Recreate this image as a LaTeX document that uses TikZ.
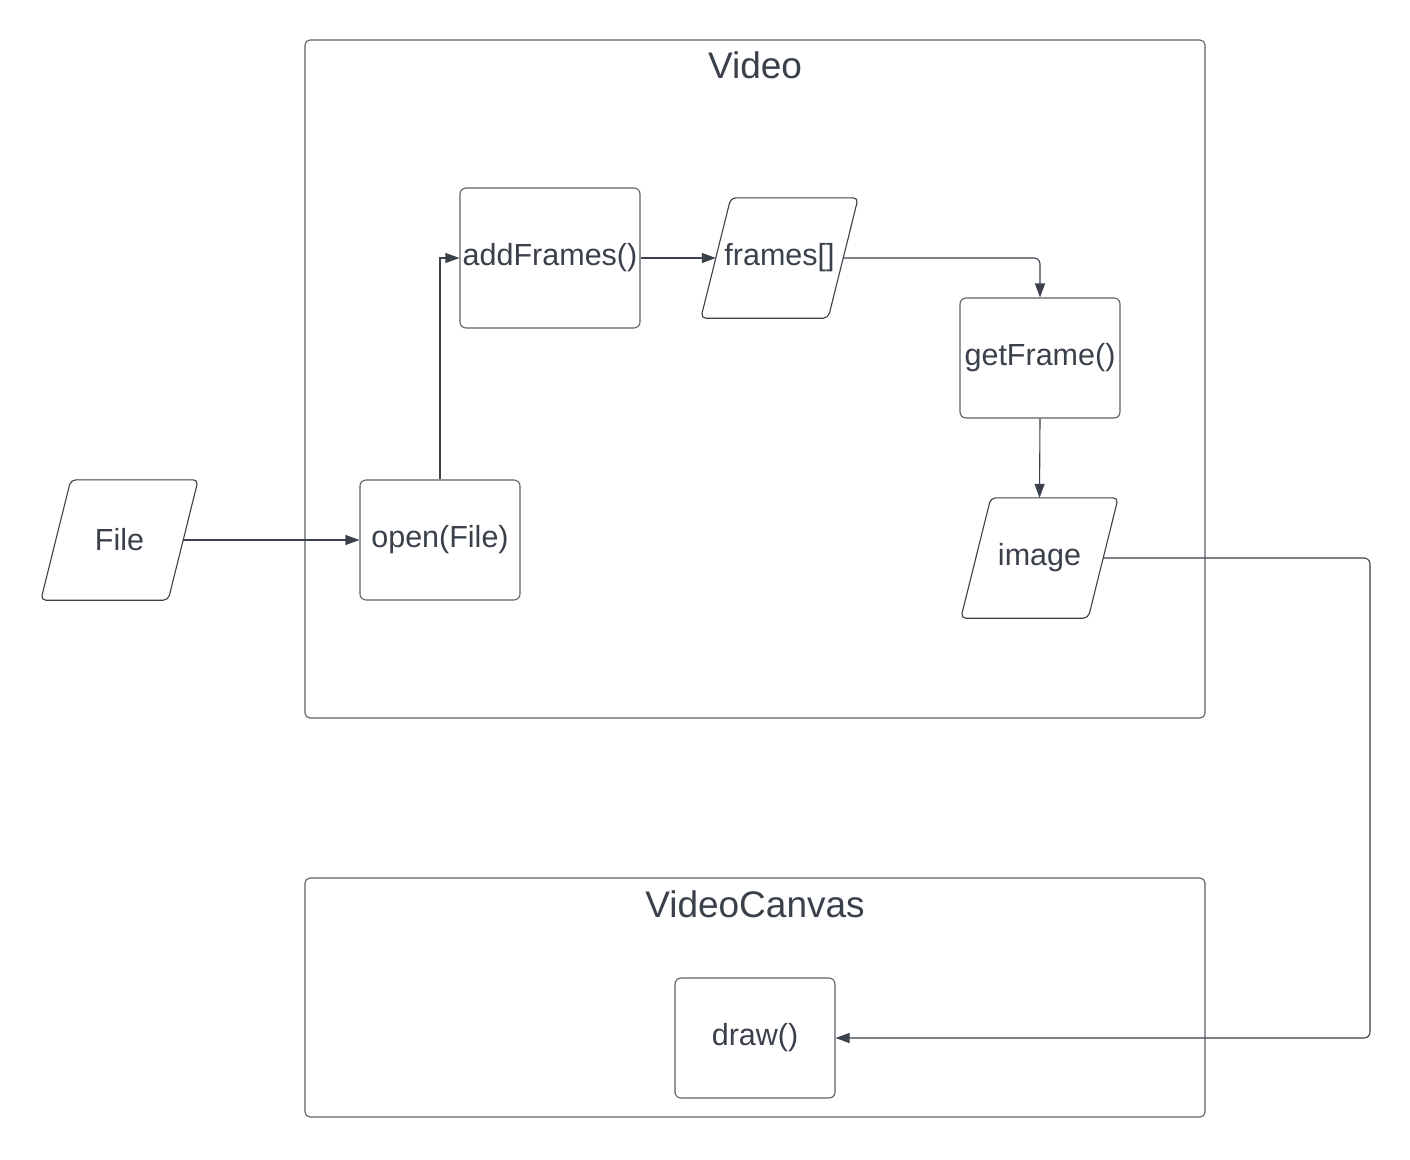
\documentclass[tikz,border=0pt]{standalone}
\usepackage{fontspec}
\setmainfont{Liberation Sans}
\usetikzlibrary{arrows.meta}
\definecolor{ink}{HTML}{3A414A}
\definecolor{edge}{HTML}{5C6168}
% slanted data box drawn around a named io node
\newcommand\ioshape[1]{%
  \draw[ioline] ([xshift=-15pt]#1.south west) -- ([xshift=-15pt]#1.south east)
    -- ([xshift=15pt]#1.north east) -- ([xshift=15pt]#1.north west) -- cycle;}
\begin{document}
\begin{tikzpicture}[x=1pt,y=-1pt,
  container/.style={draw=edge,line width=1.1pt,rounded corners=5pt,fill=white},
  proc/.style={draw=edge,line width=1.1pt,rounded corners=6pt,minimum width=160pt,
    minimum height=120pt,inner sep=0pt,text=ink,font=\fontsize{30.5}{36}\selectfont},
  io/.style={minimum width=127pt,minimum height=120pt,inner sep=0pt,text=ink,
    font=\fontsize{30.5}{36}\selectfont},
  ioline/.style={draw=ink,line width=1.1pt,rounded corners=5pt},
  title/.style={text=ink,font=\fontsize{37}{44}\selectfont,inner sep=0pt},
  flow/.style={draw=ink,line width=1.1pt,-{Triangle[length=14pt,width=10pt]}}]
\useasboundingbox[fill=white] (0,0) rectangle (1410,1159);

% class frames
\draw[container] (305,40) rectangle (1205,718);
\node[title] (videoT) at (755,65) {Video};
\draw[container] (305,878) rectangle (1205,1117);
\node[title] (canvasT) at (755,904) {VideoCanvas};

% nodes
\node[io] (file) at (119.5,540) {File};
\ioshape{file}
\node[proc] (open) at (440,540) {open(File)};
\node[proc,minimum width=180pt,minimum height=140pt] (add) at (550,258) {addFrames()};
\node[io] (frames) at (779.5,258) {frames[]};
\ioshape{frames}
\node[proc] (get) at (1040,358) {getFrame()};
\node[io] (img) at (1039.5,558) {image};
\ioshape{img}
\node[proc] (drw) at (755,1038) {draw()};
\coordinate (bend) at (1370,0);

% connectors
\draw[flow] (file.east) -- (open.west);
\draw[flow] (open.north) |- (add.west);
\draw[flow] (add.east) -- (frames.west);
\draw[flow,rounded corners=6pt] (frames.east) -| (get.north);
\draw[flow] (get.south) -- (img.north);
\draw[flow,rounded corners=6pt] (img.east) -- (img.east -| bend) |- (drw.east);
\end{tikzpicture}
\end{document}
